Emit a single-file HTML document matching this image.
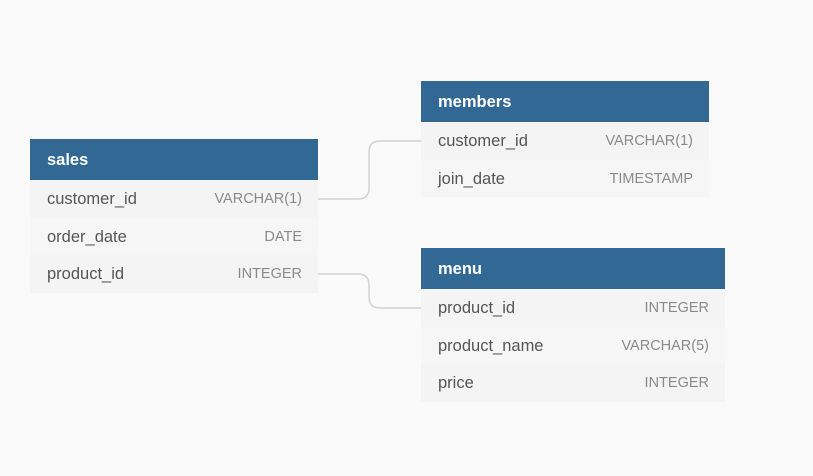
<!DOCTYPE html>
<html><head><style>
body{margin:0;width:813px;height:476px;background:#fafafa;font-family:"Liberation Sans",sans-serif;position:relative;overflow:hidden}
.t{position:absolute;background:#f4f4f4}
.h{height:41px;background:#316894;color:#fff;font-weight:bold;font-size:16.5px;line-height:43px;padding-left:17px;box-sizing:border-box;overflow:hidden}
.r{height:37.5px;line-height:39.5px;font-size:16.5px;color:#555;padding:0 16px 0 17px;display:flex;justify-content:space-between;overflow:hidden}
.r:nth-child(odd){background:#f6f6f6}
.r span:last-child{color:#8a8a8a;font-size:14.5px}
</style></head><body>
<svg width="813" height="476" style="position:absolute;left:0;top:0">
<path d="M318 199 H358 Q369 199 369 188 V152 Q369 141 380 141 H421" fill="none" stroke="#d2d2d2" stroke-width="1.5"/>
<path d="M318 274 H358 Q369 274 369 285 V297 Q369 308 380 308 H421" fill="none" stroke="#d2d2d2" stroke-width="1.5"/>
</svg>
<div class="t" style="left:30px;top:139px;width:288px">
<div class="h">sales</div>
<div class="r"><span>customer_id</span><span>VARCHAR(1)</span></div>
<div class="r"><span>order_date</span><span>DATE</span></div>
<div class="r"><span>product_id</span><span>INTEGER</span></div>
</div>
<div class="t" style="left:421px;top:81px;width:288px">
<div class="h">members</div>
<div class="r"><span>customer_id</span><span>VARCHAR(1)</span></div>
<div class="r"><span>join_date</span><span>TIMESTAMP</span></div>
</div>
<div class="t" style="left:421px;top:248px;width:304px">
<div class="h">menu</div>
<div class="r"><span>product_id</span><span>INTEGER</span></div>
<div class="r"><span>product_name</span><span>VARCHAR(5)</span></div>
<div class="r"><span>price</span><span>INTEGER</span></div>
</div>
</body></html>
